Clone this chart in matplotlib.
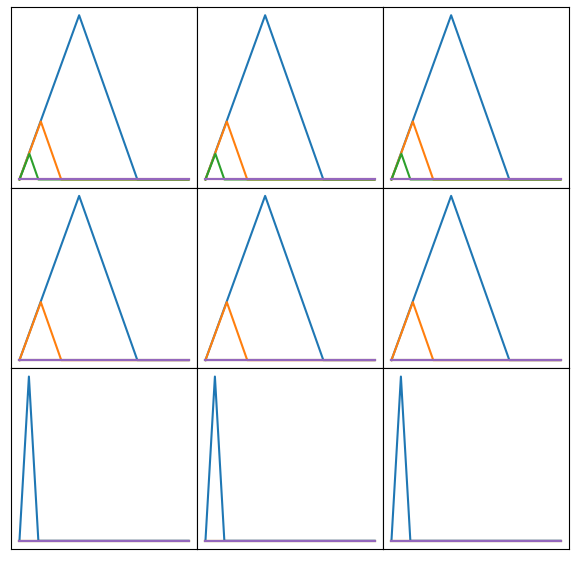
import matplotlib
matplotlib.use("Agg")
import matplotlib.pyplot as plt

# each series given as its vertices (x, y)
blue_tri_x = [0, 6.0, 11.85, 17]
blue_tri_y = [0, 100, 0, 0]
orange_tri_x = [0, 2.15, 4.2, 17]
orange_tri_y = [0, 35.3, 0, 0]
green_tri_x = [0, 1.0, 1.9, 17]
green_tri_y = [0, 15.6, 0, 0]
flat_x = [0, 17]
flat_y = [0, 0]
spike_x = [0, 0.95, 1.9, 17]
spike_y = [0, 100, 0, 0]

row_top = [(blue_tri_x, blue_tri_y), (orange_tri_x, orange_tri_y),
           (green_tri_x, green_tri_y), (flat_x, flat_y), (flat_x, flat_y)]
row_mid = [(blue_tri_x, blue_tri_y), (orange_tri_x, orange_tri_y),
           (flat_x, flat_y), (flat_x, flat_y), (flat_x, flat_y)]
row_bot = [(spike_x, spike_y), (flat_x, flat_y), (flat_x, flat_y),
           (flat_x, flat_y), (flat_x, flat_y)]
rows = [row_top, row_mid, row_bot]
colors = ["tab:blue", "tab:orange", "tab:green", "tab:red", "tab:purple"]

fig, axes = plt.subplots(3, 3, figsize=(5.75, 5.61), dpi=100)
fig.subplots_adjust(left=11/575, right=569/575, bottom=1-549/561, top=1-7/561,
                    wspace=0, hspace=0)
for r in range(3):
    for c in range(3):
        ax = axes[r][c]
        for (sx, sy), col in zip(rows[r], colors):
            ax.plot(sx, sy, color=col, lw=1.5)
        ax.set_xticks([])
        ax.set_yticks([])
fig.savefig("out.png", dpi=100)
